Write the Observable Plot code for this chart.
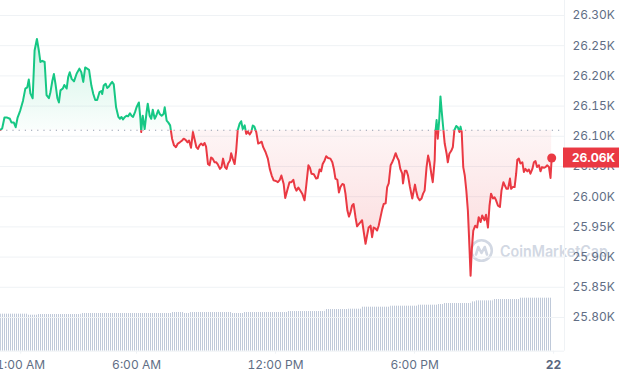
<!DOCTYPE html>
<html><head><meta charset="utf-8">
<script src="https://cdn.jsdelivr.net/npm/d3@7"></script>
<script src="https://cdn.jsdelivr.net/npm/@observablehq/plot@0.6"></script>
<style>
html,body{margin:0;padding:0;background:#fff;}
#wrap{position:relative;width:619px;height:376px;overflow:hidden;font-family:Inter,sans-serif;}
#wrap > svg{position:absolute;left:0;top:0;}
</style></head><body><div id="wrap"></div>
<script>
// minutes after midnight (Sep 21) and BTC price in USD
const minutes = [8,12,18,25,32,36,42,47,52,59,66,72,77,81,85,91,96,102,107,111,116,122,127,133,137,142,146,150,155,159,163,169,173,179,183,187,192,198,205,212,217,222,227,232,237,243,248,253,258,264,269,271,275,280,284,288,293,297,301,307,313,317,321,325,330,334,338,343,347,351,356,360,366,370,372,376,381,386,389,394,398,402,407,411,416,420,425,430,433,438,442,447,452,457,462,467,472,478,482,487,492,496,501,506,510,515,519,523,527,532,536,540,545,549,553,557,562,566,570,576,580,584,589,593,597,602,605,609,614,618,622,627,631,635,640,644,648,653,657,661,665,670,675,679,684,688,694,700,705,710,715,721,726,731,735,741,745,750,756,761,766,770,774,779,783,789,795,799,805,809,813,819,825,829,834,838,842,847,851,856,862,867,871,875,880,884,888,893,897,901,906,910,914,918,922,927,931,936,940,944,949,953,957,961,966,970,974,979,983,987,992,996,1000,1005,1009,1013,1018,1022,1026,1031,1035,1039,1043,1048,1050,1055,1059,1063,1068,1074,1078,1081,1084,1088,1093,1098,1102,1106,1111,1115,1119,1124,1127,1132,1134,1137,1140,1144,1147,1150,1154,1158,1163,1166,1170,1175,1179,1183,1188,1192,1196,1199,1202,1206,1210,1214,1218,1221,1225,1228,1232,1237,1242,1246,1251,1255,1261,1265,1270,1274,1278,1283,1287,1291,1296,1301,1305,1310,1314,1318,1322,1327,1330,1334,1339,1343,1346,1350,1354,1359,1363,1367,1372,1376,1380,1385,1389,1393,1397,1402,1406,1410,1415,1419,1423,1428,1432,1435];
const prices = [26111,26113,26131,26131,26129,26123,26123,26115,26131,26143,26159,26179,26181,26194,26171,26163,26242,26261,26242,26223,26225,26223,26168,26163,26173,26192,26203,26187,26163,26156,26176,26179,26185,26179,26198,26206,26195,26191,26204,26212,26206,26190,26214,26212,26210,26184,26170,26160,26160,26173,26175,26170,26184,26187,26180,26182,26187,26190,26186,26148,26132,26129,26132,26128,26132,26134,26133,26138,26134,26132,26140,26148,26156,26129,26107,26134,26112,26140,26154,26134,26129,26144,26129,26134,26143,26137,26134,26137,26148,26126,26123,26118,26096,26085,26082,26088,26090,26093,26096,26094,26090,26093,26081,26107,26096,26082,26079,26085,26088,26085,26089,26083,26054,26052,26065,26063,26057,26057,26054,26046,26049,26063,26049,26046,26055,26060,26072,26063,26054,26076,26110,26121,26125,26112,26118,26104,26108,26103,26107,26118,26116,26107,26088,26089,26091,26082,26074,26063,26046,26035,26027,26026,26024,26028,26035,26021,25998,26010,26024,26024,26028,26016,26010,26015,26011,26005,25994,26016,26052,26048,26038,26037,26030,26031,26045,26042,26054,26060,26067,26064,26063,26057,26046,26030,26028,26007,26016,26021,26020,26005,25977,25967,25974,25985,25988,25966,25951,25955,25958,25961,25939,25922,25936,25949,25952,25933,25949,25947,25944,25952,25967,25979,25988,25989,26016,26022,26052,26057,26063,26072,26065,26060,26046,26038,26022,26043,26043,26035,26016,25997,26010,26020,26010,25999,25994,25997,26005,26010,26049,26068,26057,26035,26024,26060,26107,26127,26096,26129,26166,26143,26115,26088,26071,26057,26071,26076,26082,26110,26117,26115,26107,26116,26107,26049,26035,26010,25977,25933,25869,25911,25944,25952,25949,25966,25958,25969,25961,25970,25949,25985,26005,25997,25999,25994,25985,25983,26010,26024,26018,26013,26013,26030,26013,26016,26016,26038,26061,26063,26055,26057,26041,26046,26042,26045,26038,26046,26057,26059,26049,26052,26042,26049,26048,26049,26052,26049,26031,26064];
const openPrice = 26110;
// 24h volume (billions USD), in steps
const volStart = [8,80,106,217,453,484,500,608,637,751,849,909,945,1018,1090,1142,1157,1227,1238,1284,1352];
const volEnd   = [80,106,217,453,484,500,608,637,751,849,909,945,1018,1090,1142,1157,1227,1238,1284,1352,1437];
const volume   = [11.1,10.8,11.0,11.3,11.6,11.3,11.6,11.3,11.6,11.9,12.5,12.6,13.2,13.5,13.8,14.0,14.3,14.8,15.1,15.5,15.9];
const yTicks = [25800,25850,25900,25950,26000,26050,26100,26150,26200,26250,26300];
const xTickMinutes = [60,360,720,1080];
const xTickLabels = ["1:00 AM","6:00 AM","12:00 PM","6:00 PM"];
const dayTickMinutes = [1440];
const dayTickLabels = ["22"];

const GREEN = "#16c784", RED = "#ea3943", TXT = "#616e85", GRID = "#eff2f5";
const W = 619, H = 376, mL = 0, mR = 55, mT = 0, mB = 25.3;
const xDomain = [7.7, 1468.2];
const yDomain = [25744.2, 26324.8];
const data = minutes.map((m, i) => ({m, p: prices[i]}));
const vols = volume.map((v, i) => ({x1: volStart[i], x2: volEnd[i], v}));
const last = data[data.length - 1];
const fmtK = d => (d / 1000).toFixed(2) + "K";
const xLab = new Map(xTickMinutes.map((d, i) => [d, xTickLabels[i]]));
const dLab = new Map(dayTickMinutes.map((d, i) => [d, dayTickLabels[i]]));
const wrap = document.getElementById("wrap");

// volume layer
const volPlot = Plot.plot({
  width: W, height: H, marginLeft: mL, marginRight: mR, marginTop: mT, marginBottom: mB,
  x: {domain: xDomain, axis: null}, y: {domain: [0, 105.2], axis: null},
  style: {background: "transparent"},
  marks: [Plot.rectY(vols, {x1: "x1", x2: "x2", y: "v", fill: "url(#volPat)"})]
});
const vp = d3.select(volPlot).insert("defs", ":first-child").append("pattern")
  .attr("id", "volPat").attr("patternUnits", "userSpaceOnUse").attr("width", 2).attr("height", 4);
vp.append("rect").attr("x", 0).attr("y", 0).attr("width", 1).attr("height", 4).attr("fill", "#bfc9d9");
wrap.appendChild(volPlot);

// watermark
const wm = d3.create("svg").attr("width", W).attr("height", H);
const wg = wm.append("g").attr("transform", "translate(481.5,250.5)").attr("fill", "none")
  .attr("stroke", "#d2d8e3").attr("stroke-width", 2.6).attr("stroke-linecap", "round").attr("stroke-linejoin", "round");
wg.append("circle").attr("r", 10.3);
wg.append("path").attr("d", "M-5.5,4 L-3.2,-3.5 L0,2.5 L3.2,-3.5 L5.5,4");
wm.append("text").attr("x", 500).attr("y", 256.7).attr("font-family", "Inter, sans-serif")
  .attr("font-size", 15.5).attr("font-weight", 600).attr("fill", "#d2d8e3")
  .attr("textLength", 108).attr("lengthAdjust", "spacingAndGlyphs").text("CoinMarketCap");
wrap.appendChild(wm.node());

// main price layer
const main = Plot.plot({
  width: W, height: H, marginLeft: mL, marginRight: mR, marginTop: mT, marginBottom: mB,
  x: {domain: xDomain}, y: {domain: yDomain},
  style: {background: "transparent", fontFamily: "Inter, sans-serif", fontSize: "12px"},
  marks: [
    Plot.gridY(yTicks, {stroke: GRID, strokeOpacity: 1}),
    Plot.ruleX([xDomain[1]], {stroke: GRID}),
    Plot.ruleY([yDomain[0]], {stroke: GRID}),
    Plot.area(data, {x1: "m", y1: openPrice, y2: "p", fill: "url(#gUp)"}),
    Plot.area(data, {x1: "m", y1: openPrice, y2: "p", fill: "url(#gDown)"}),
    Plot.ruleY([openPrice], {stroke: "#949eb0", strokeWidth: 1.2, strokeDasharray: "1.2,5"}),
    Plot.line(data, {x: "m", y: "p", stroke: GREEN, strokeWidth: 2}),
    Plot.line(data, {x: "m", y: "p", stroke: RED, strokeWidth: 2}),
    Plot.dot([last], {x: "m", y: "p", r: 4.5, fill: RED}),
    Plot.axisY(yTicks, {anchor: "right", tickSize: 0, tickPadding: 8, tickFormat: fmtK, fill: TXT, label: null}),
    Plot.axisX(xTickMinutes, {tickSize: 3, tickPadding: 6, tickFormat: d => xLab.get(d), stroke: GRID, fill: TXT, label: null}),
    Plot.axisX(dayTickMinutes, {tickSize: 3, tickPadding: 6, tickFormat: d => dLab.get(d), stroke: GRID, fill: "#58667e", fontWeight: "bold", label: null})
  ]
});
const ys = main.scale("y");
const yb = ys.apply(openPrice);
const svg = d3.select(main);
const defs = svg.insert("defs", ":first-child");
defs.append("clipPath").attr("id", "clipUp").append("rect").attr("x", -5).attr("y", -5).attr("width", W + 10).attr("height", yb + 5);
defs.append("clipPath").attr("id", "clipDown").append("rect").attr("x", -5).attr("y", yb).attr("width", W + 10).attr("height", H - yb + 5);
const gu = defs.append("linearGradient").attr("id", "gUp").attr("gradientUnits", "userSpaceOnUse")
  .attr("x1", 0).attr("x2", 0).attr("y1", ys.apply(d3.max(prices))).attr("y2", yb);
gu.append("stop").attr("offset", 0).attr("stop-color", GREEN).attr("stop-opacity", 0.2);
gu.append("stop").attr("offset", 1).attr("stop-color", GREEN).attr("stop-opacity", 0.02);
const gd = defs.append("linearGradient").attr("id", "gDown").attr("gradientUnits", "userSpaceOnUse")
  .attr("x1", 0).attr("x2", 0).attr("y1", yb).attr("y2", ys.apply(d3.min(prices)));
gd.append("stop").attr("offset", 0).attr("stop-color", RED).attr("stop-opacity", 0.05);
gd.append("stop").attr("offset", 1).attr("stop-color", RED).attr("stop-opacity", 0.2);
const areas = svg.selectAll('g[aria-label="area"]').nodes();
const lines = svg.selectAll('g[aria-label="line"]').nodes();
d3.select(areas[0]).attr("clip-path", "url(#clipUp)");
d3.select(areas[1]).attr("clip-path", "url(#clipDown)");
d3.select(lines[0]).attr("clip-path", "url(#clipUp)");
d3.select(lines[1]).attr("clip-path", "url(#clipDown)");
// current price tag
const yl = ys.apply(last.p);
const tag = svg.append("g").attr("text-anchor", "start");
tag.append("rect").attr("x", W - mR - 1).attr("y", yl - 10).attr("width", mR + 1).attr("height", 20).attr("fill", RED);
tag.append("text").attr("x", W - mR + 8).attr("y", yl).attr("dy", "0.35em").attr("fill", "#fff")
  .attr("font-size", 12).attr("font-weight", 700).text(fmtK(last.p));
wrap.appendChild(main);
</script></body></html>
